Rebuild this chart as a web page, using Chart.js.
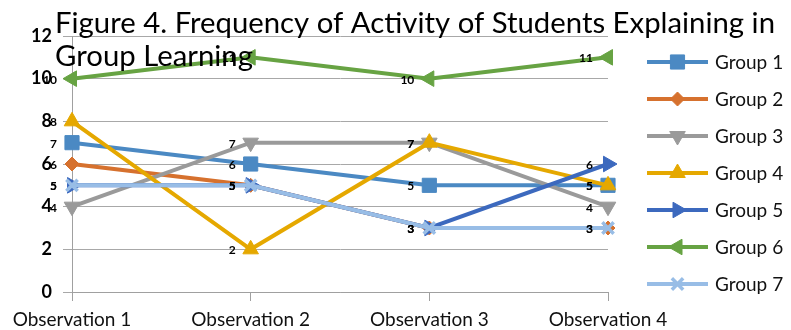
<!DOCTYPE html>
<html>
<head>
<meta charset="utf-8">
<script src="https://cdn.jsdelivr.net/npm/chart.js@4/dist/chart.umd.min.js"></script>
<style>
  html, body { margin: 0; padding: 0; background: #fff; }
  #wrap { width: 791px; height: 330px; position: relative; }
</style>
</head>
<body>
<div id="wrap"><canvas id="c" width="791" height="330"></canvas></div>
<script>
// Observation sessions on the x axis
const observations = ['Observation 1', 'Observation 2', 'Observation 3', 'Observation 4'];

// Frequency of explaining activity per group
const group1 = [7, 6, 5, 5];
const group2 = [6, 5, 3, 3];
const group3 = [4, 7, 7, 4];
const group4 = [8, 2, 7, 5];
const group5 = [5, 5, 3, 6];
const group6 = [10, 11, 10, 11];
const group7 = [5, 5, 3, 3];

const groupNames = ['Group 1', 'Group 2', 'Group 3', 'Group 4', 'Group 5', 'Group 6', 'Group 7'];
const groupValues = [group1, group2, group3, group4, group5, group6, group7];

const yTicks = [0, 2, 4, 6, 8, 10, 12];

const titleLines = ['Figure 4. Frequency of Activity of Students Explaining in', 'Group Learning'];

// Series styling
const colors = ['#4B89C3', '#D6712E', '#9A9A9A', '#E5A800', '#3C69BE', '#67A343', '#98BDE6'];
const markers = [
  { pointStyle: 'rect', rotation: 0, radius: 10 },
  { pointStyle: 'rectRot', rotation: 0, radius: 7 },
  { pointStyle: 'triangle', rotation: 180, radius: 9 },
  { pointStyle: 'triangle', rotation: 0, radius: 9 },
  { pointStyle: 'triangle', rotation: 90, radius: 9 },
  { pointStyle: 'triangle', rotation: -90, radius: 9 },
  { pointStyle: 'crossRot', rotation: 0, radius: 8 }
];

const datasets = groupNames.map((name, i) => ({
  label: name,
  data: groupValues[i],
  borderColor: colors[i],
  backgroundColor: colors[i],
  borderWidth: 4,
  pointStyle: markers[i].pointStyle,
  pointRotation: markers[i].rotation,
  pointRadius: markers[i].radius,
  pointHoverRadius: markers[i].radius,
  pointBorderWidth: markers[i].pointStyle === 'crossRot' ? 3.5 : 1,
  pointBackgroundColor: colors[i],
  pointBorderColor: colors[i],
  tension: 0,
  order: groupNames.length - 1 - i   // later groups drawn on top
}));

// Value labels placed to the left of each point
const valueLabels = {
  id: 'valueLabels',
  afterDatasetsDraw(chart) {
    const ctx = chart.ctx;
    ctx.save();
    ctx.font = 'bold 12px Lato';
    ctx.fillStyle = '#000';
    ctx.textAlign = 'right';
    ctx.textBaseline = 'middle';
    chart.data.datasets.forEach((ds, di) => {
      const meta = chart.getDatasetMeta(di);
      meta.data.forEach((pt, j) => {
        ctx.fillText(String(ds.data[j]), pt.x - 15, pt.y + 1);
      });
    });
    ctx.restore();
  }
};

// Legend on the right: line segment with marker, then group name
const sideLegend = {
  id: 'sideLegend',
  afterDraw(chart) {
    const ctx = chart.ctx;
    const x0 = 647, x1 = 708, top = 62, step = 37;
    ctx.save();
    chart.data.datasets.forEach((ds, i) => {
      const y = top + i * step;
      ctx.strokeStyle = ds.borderColor;
      ctx.fillStyle = ds.borderColor;
      ctx.lineWidth = 4;
      ctx.beginPath();
      ctx.moveTo(x0, y);
      ctx.lineTo(x1, y);
      ctx.stroke();
      ctx.lineWidth = ds.pointBorderWidth;
      Chart.helpers.drawPoint(ctx, {
        pointStyle: ds.pointStyle,
        rotation: ds.pointRotation,
        radius: ds.pointRadius,
        borderWidth: ds.pointBorderWidth
      }, (x0 + x1) / 2, y);
      ctx.font = '19px Lato';
      ctx.fillStyle = '#111';
      ctx.textAlign = 'left';
      ctx.textBaseline = 'middle';
      ctx.fillText(ds.label, 715, y + 1);
    });
    ctx.restore();
  }
};

// Two-line heading drawn over the plot
const heading = {
  id: 'heading',
  afterDraw(chart) {
    const ctx = chart.ctx;
    ctx.save();
    ctx.font = '28px Lato';
    ctx.fillStyle = '#000';
    ctx.textAlign = 'left';
    ctx.textBaseline = 'alphabetic';
    const w = ctx.measureText(titleLines[0]).width;
    const sx = 720 / w;
    ctx.translate(55, 0);
    ctx.scale(sx, 1);
    ctx.fillText(titleLines[0], 0, 33);
    ctx.fillText(titleLines[1], 0, 66);
    ctx.restore();
  }
};

new Chart(document.getElementById('c'), {
  type: 'line',
  data: { labels: observations, datasets },
  plugins: [valueLabels, sideLegend, heading],
  options: {
    responsive: false,
    animation: false,
    events: [],
    layout: { padding: { left: 0, top: 36, right: 183, bottom: 0 } },
    plugins: {
      legend: { display: false },
      title: { display: false },
      tooltip: { enabled: false }
    },
    scales: {
      x: {
        type: 'category',
        offset: false,
        afterFit: s => { s.height = 38; },
        grid: { drawOnChartArea: false, drawTicks: true, tickLength: 9, color: '#A0A0A0', lineWidth: 1 },
        border: { display: true, color: '#A0A0A0', width: 1 },
        ticks: { color: '#111', font: { family: 'Lato', size: 19 }, padding: 7, maxRotation: 0, autoSkip: false }
      },
      y: {
        min: yTicks[0],
        max: yTicks[yTicks.length - 1],
        afterFit: s => { s.width = 72; },
        afterBuildTicks: s => { s.ticks = yTicks.map(v => ({ value: v })); },
        grid: { drawTicks: true, tickLength: 9, color: '#A8A8A8', lineWidth: 1 },
        border: { display: true, color: '#A0A0A0', width: 1 },
        ticks: { color: '#000', font: { family: 'Lato', size: 18, weight: 'bold' }, padding: 11 }
      }
    }
  }
});
</script>
</body>
</html>
